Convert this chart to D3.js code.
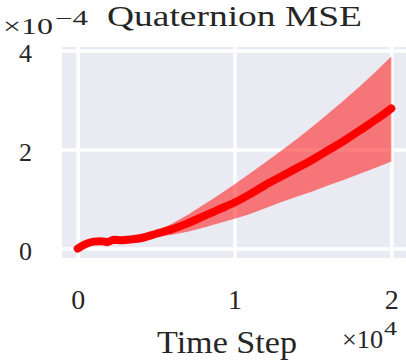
<!DOCTYPE html>
<html>
<head>
<meta charset="utf-8">
<script src="https://cdn.jsdelivr.net/npm/d3@7"></script>
<style>
  body { margin: 0; background: #fff; }
  svg text { font-family: "Liberation Serif", serif; fill: #262626; }
</style>
</head>
<body>
<svg id="chart"></svg>
<script>
const svg = d3.select("#chart")
  .attr("width", 406)
  .attr("height", 362);

// time steps and MSE values (MSE in units of 1e-4)
const steps = [0, 500, 1000, 1500, 1900, 2300, 2800, 3500, 4000, 5000, 6000, 7000, 8000,
  9000, 10000, 11000, 12000, 13000, 14000, 15000, 16000, 17000, 18000, 19000, 20000];
const meanMse = [0.00, 0.09, 0.14, 0.15, 0.13, 0.18, 0.17, 0.19, 0.21, 0.30, 0.39, 0.51, 0.65,
  0.79, 0.93, 1.10, 1.29, 1.46, 1.63, 1.80, 1.99, 2.18, 2.39, 2.60, 2.83];
const upperMse = [0.00, 0.09, 0.14, 0.15, 0.14, 0.19, 0.18, 0.21, 0.24, 0.35, 0.50, 0.68, 0.88,
  1.08, 1.30, 1.52, 1.75, 1.98, 2.22, 2.47, 2.73, 3.00, 3.28, 3.57, 3.88];
const lowerMse = [0.00, 0.09, 0.14, 0.15, 0.12, 0.17, 0.16, 0.18, 0.19, 0.24, 0.28, 0.34, 0.42,
  0.51, 0.60, 0.70, 0.82, 0.94, 1.05, 1.16, 1.28, 1.39, 1.51, 1.63, 1.76];

const xTicks = [0, 10000, 20000];
const yTicks = [0, 2, 4];

const plotL = 62, plotR = 407, plotT = 47, plotB = 258;

const x = d3.scaleLinear().domain([-1000, 21000]).range([plotL, plotR]);
const y = d3.scaleLinear().domain([-0.19, 4.07]).range([plotB, plotT]);

/* ---- background + grid ---- */
svg.append("rect")
  .attr("x", plotL).attr("y", plotT)
  .attr("width", plotR - plotL).attr("height", plotB - plotT)
  .attr("fill", "#eaeaf2");

svg.append("g")
  .attr("transform", `translate(0,${plotB})`)
  .call(d3.axisBottom(x).tickValues(xTicks).tickSize(-(plotB - plotT)).tickFormat(""))
  .call(g => g.select(".domain").remove())
  .call(g => g.selectAll("line").attr("stroke", "#fff").attr("stroke-width", 3.5));

svg.append("g")
  .attr("transform", `translate(${plotL},0)`)
  .call(d3.axisLeft(y).tickValues(yTicks).tickSize(-(plotR - plotL)).tickFormat(""))
  .call(g => g.select(".domain").remove())
  .call(g => g.selectAll("line").attr("stroke", "#fff").attr("stroke-width", 3.5));

/* ---- band + mean line ---- */
svg.append("clipPath").attr("id", "clip")
  .append("rect")
  .attr("x", plotL).attr("y", plotT)
  .attr("width", plotR - plotL).attr("height", plotB - plotT);

const plot = svg.append("g").attr("clip-path", "url(#clip)");

const band = d3.area()
  .x((d, i) => x(steps[i]))
  .y0((d, i) => y(lowerMse[i]))
  .y1((d, i) => y(upperMse[i]));

plot.append("path")
  .datum(steps)
  .attr("d", band)
  .attr("fill", "#ff0000")
  .attr("fill-opacity", 0.5);

const line = d3.line()
  .x((d, i) => x(steps[i]))
  .y(d => y(d))
  .curve(d3.curveMonotoneX);

plot.append("path")
  .datum(meanMse)
  .attr("d", line)
  .attr("fill", "none")
  .attr("stroke", "#ff0000")
  .attr("stroke-width", 8)
  .attr("stroke-linecap", "round")
  .attr("stroke-linejoin", "round");

/* ---- tick labels ---- */
svg.append("g")
  .attr("transform", `translate(0,${plotB})`)
  .call(d3.axisBottom(x).tickValues(xTicks).tickSize(0).tickPadding(31).tickFormat(d => d / 1e4))
  .call(g => g.select(".domain").remove())
  .call(g => g.selectAll("text")
    .attr("fill", "#262626")
    .style("font-size", "28px")
    .style("font-family", "Liberation Serif, serif"));

svg.append("g")
  .attr("transform", `translate(${plotL},0)`)
  .call(d3.axisLeft(y).tickValues(yTicks).tickSize(0).tickPadding(30).tickFormat(d => d))
  .call(g => g.select(".domain").remove())
  .call(g => g.selectAll("text")
    .attr("fill", "#262626")
    .attr("dy", "0.42em")
    .style("font-size", "26px")
    .style("font-family", "Liberation Serif, serif"));

/* ---- title, axis label, offsets ---- */
svg.append("text")
  .attr("x", 107).attr("y", 26)
  .attr("textLength", 255)
  .attr("lengthAdjust", "spacingAndGlyphs")
  .style("font-size", "29px")
  .text("Quaternion MSE");

svg.append("text")
  .attr("x", 157).attr("y", 353)
  .attr("textLength", 140)
  .attr("lengthAdjust", "spacingAndGlyphs")
  .style("font-size", "32px")
  .text("Time Step");

// offset labels
svg.append("text")
  .attr("x", 3).attr("y", 34)
  .attr("textLength", 50).attr("lengthAdjust", "spacingAndGlyphs")
  .style("font-size", "24px")
  .text("×10");
svg.append("text")
  .attr("x", 55).attr("y", 25)
  .attr("textLength", 33).attr("lengthAdjust", "spacingAndGlyphs")
  .style("font-size", "20px")
  .text("−4");

svg.append("text")
  .attr("x", 342).attr("y", 348)
  .attr("textLength", 41).attr("lengthAdjust", "spacingAndGlyphs")
  .style("font-size", "25px")
  .text("×10");
svg.append("text")
  .attr("x", 384).attr("y", 335)
  .attr("textLength", 13).attr("lengthAdjust", "spacingAndGlyphs")
  .style("font-size", "19px")
  .text("4");
</script>
</body>
</html>
